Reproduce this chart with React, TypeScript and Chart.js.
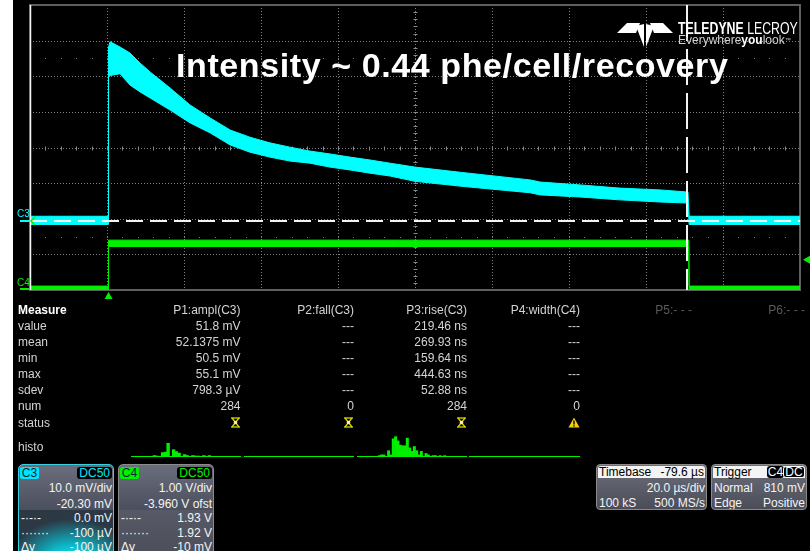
import React, { useEffect, useRef } from "react";
import { Chart, registerables } from "chart.js";

Chart.register(...registerables);

// ---------------- data ----------------
// C3 (cyan) trace: noise band envelope, time in µs, level in mV
const c3Time = [-20.4, -0.1, 0, 0.4, 3.0, 5.6, 8.2, 10.8, 16.0, 21.2, 26.4, 31.6, 36.7, 41.9, 47.1, 52.3, 57.5, 62.7, 67.9, 73.1, 79.6, 91.8, 109.5, 112.1, 122.5, 132.8, 143.2, 150.5, 150.8, 179.6];
const c3Upper = [1.0, 1.0, 48.5, 50.0, 48.5, 46.8, 44.0, 41.5, 37.0, 32.2, 28.6, 25.2, 23.2, 21.6, 20.4, 19.3, 18.5, 17.6, 16.8, 15.9, 14.8, 13.3, 11.2, 10.6, 9.8, 8.9, 8.4, 7.8, 1.0, 1.0];
const c3Lower = [-1.3, -1.3, 40.0, 40.5, 41.0, 37.8, 35.9, 34.2, 30.8, 27.2, 24.4, 21.0, 19.0, 17.6, 16.5, 15.9, 14.8, 14.0, 13.1, 12.3, 10.8, 9.4, 7.6, 7.0, 6.4, 5.6, 5.0, 4.7, -1.3, -1.3];

// C4 (green) trace: gate pulse, level in V
const c4Time = [-20.4, -0.1, 0, 150.7, 150.8, 179.6];
const c4Upper = [0.07, 0.07, 1.36, 1.36, 0.07, 0.07];
const c4Lower = [-0.04, -0.04, 1.18, 1.18, -0.04, -0.04];

// axis ranges (10 div x 20 µs; 8 div x 10 mV / 1 V)
const timeRange = [-20.4, 179.6];
const c3Range = [-19.7, 60.3];
const c4Range = [-0.04, 7.96];

const cursorTime = 150.2; // µs
const c3CursorLevel = 0.0; // mV
const triggerTime = 0; // µs
const triggerLevel = 0.81; // V

// measurement table
const measureLabels = ["value", "mean", "min", "max", "sdev", "num", "status"];
const measureHeaders = ["P1:ampl(C3)", "P2:fall(C3)", "P3:rise(C3)", "P4:width(C4)"];
const p1Values = ["51.8 mV", "52.1375 mV", "50.5 mV", "55.1 mV", "798.3 µV", "284"];
const p2Values = ["---", "---", "---", "---", "---", "0"];
const p3Values = ["219.46 ns", "269.93 ns", "159.64 ns", "444.63 ns", "52.88 ns", "284"];
const p4Values = ["---", "---", "---", "---", "---", "0"];
const p1Histo = [0, 0, 0, 0, 0, 0, 0, 0, 3, 2, 0, 9, 10, 28, 0, 15, 11, 8, 0, 5, 3, 0, 3, 2, 2, 0, 3, 0, 3, 0, 0, 0, 0, 0, 0, 0, 0, 0, 0, 0];
const p3Histo = [0, 0, 0, 0, 0, 0, 0, 0, 0, 2, 3, 3, 0, 9, 3, 26, 29, 23, 17, 16, 16, 27, 13, 8, 15, 9, 3, 8, 0, 5, 3, 0, 2, 2, 0, 2, 0, 2, 0, 0, 0, 0, 0, 0, 0, 0, 0];

// ---------------- styles ----------------
const CYAN = "#00ffff";
const GREEN = "#00f000";
const FONT = "'Liberation Sans', Arial, sans-serif";
const PANEL_TEXT = "#d4d4d4";

const line = (ctx: CanvasRenderingContext2D, x1: number, y1: number, x2: number, y2: number) => {
  ctx.beginPath();
  ctx.moveTo(x1, y1);
  ctx.lineTo(x2, y2);
  ctx.stroke();
};

const scopePlugin = {
  id: "scope",
  beforeDatasetsDraw(chart: any) {
    const { ctx, chartArea: a } = chart;
    const w = a.right - a.left;
    const h = a.bottom - a.top;
    const dx = w / 10;
    const dy = h / 8;
    ctx.save();
    ctx.lineWidth = 1;
    ctx.strokeStyle = "#808080";
    ctx.setLineDash([1, 2]);
    for (let i = 1; i < 10; i++) {
      const x = Math.round(a.left + i * dx) + 0.5;
      line(ctx, x, a.top, x, a.bottom);
    }
    for (let j = 1; j < 8; j++) {
      const y = Math.round(a.top + j * dy) + 0.5;
      line(ctx, a.left, y, a.right, y);
    }
    ctx.setLineDash([]);
    const cx = Math.round(a.left + 5 * dx) + 0.5;
    const cy = Math.round(a.top + 4 * dy) + 0.5;
    ctx.strokeStyle = "#8a8a8a";
    for (let k = 1; k < 50; k++) {
      const x = Math.round(a.left + (k * dx) / 5) + 0.5;
      line(ctx, x, cy - 2, x, cy + 2);
    }
    for (let k = 1; k < 40; k++) {
      const y = Math.round(a.top + (k * dy) / 5) + 0.5;
      line(ctx, cx - 2, y, cx + 2, y);
    }
    ctx.fillStyle = "#7a7a7a";
    for (const r of [1.5, 6.5]) {
      const y = Math.round(a.top + r * dy);
      for (let k = 1; k < 50; k++) {
        const x = Math.round(a.left + (k * dx) / 5);
        ctx.fillRect(x, y, 1, 1);
      }
    }
    ctx.strokeStyle = "#5e5e5e";
    ctx.lineWidth = 2;
    ctx.strokeRect(a.left, a.top, w, h);
    ctx.restore();
  },
  afterDatasetsDraw(chart: any) {
    const { ctx, chartArea: a, scales } = chart;
    ctx.save();
    ctx.strokeStyle = "#f4f4f4";
    ctx.lineWidth = 2;
    const yc = Math.round(scales.y3.getPixelForValue(c3CursorLevel)) + 1;
    ctx.setLineDash([17, 7]);
    line(ctx, a.left, yc, a.right, yc);
    const xc = Math.round(scales.x.getPixelForValue(cursorTime));
    ctx.setLineDash([36, 8]);
    line(ctx, xc, a.top, xc, a.bottom);
    ctx.setLineDash([]);
    ctx.lineWidth = 1.5;
    line(ctx, a.left + 0.5, a.top, a.left + 0.5, a.bottom);
    ctx.restore();
  },
  afterDraw(chart: any) {
    const { ctx, chartArea: a, scales } = chart;
    ctx.save();
    // trigger time marker
    const xt = scales.x.getPixelForValue(triggerTime);
    ctx.fillStyle = GREEN;
    ctx.beginPath();
    ctx.moveTo(xt, a.bottom + 2);
    ctx.lineTo(xt - 4, a.bottom + 9);
    ctx.lineTo(xt + 4, a.bottom + 9);
    ctx.closePath();
    ctx.fill();
    // trigger level marker
    const yl = scales.y4.getPixelForValue(triggerLevel);
    ctx.beginPath();
    ctx.moveTo(a.right + 3, yl);
    ctx.lineTo(chart.width, yl - 4);
    ctx.lineTo(chart.width, yl + 4);
    ctx.closePath();
    ctx.fill();
    // ground markers
    ctx.lineWidth = 2;
    ctx.strokeStyle = CYAN;
    const y3g = Math.round(scales.y3.getPixelForValue(0)) + 1;
    line(ctx, 20, y3g, a.left, y3g);
    ctx.strokeStyle = GREEN;
    const y4g = Math.round(scales.y4.getPixelForValue(0));
    line(ctx, 20, y4g, a.left, y4g);
    // small chevron
    ctx.lineWidth = 1.5;
    ctx.beginPath();
    ctx.moveTo(a.left + 5, y3g - 4);
    ctx.lineTo(a.left + 1, y3g);
    ctx.lineTo(a.left + 5, y3g + 4);
    ctx.stroke();
    ctx.restore();
  },
};

function ScopeChart() {
  const ref = useRef<HTMLCanvasElement>(null);
  useEffect(() => {
    const pts = (t: number[], v: number[]) => t.map((x, i) => ({ x, y: v[i] }));
    const common = { borderWidth: 1, pointRadius: 0, tension: 0 };
    const chart = new Chart(ref.current as HTMLCanvasElement, {
      type: "line",
      data: {
        datasets: [
          { label: "C3", data: pts(c3Time, c3Upper), yAxisID: "y3", borderColor: CYAN, backgroundColor: CYAN, fill: "+1", ...common },
          { label: "C3 low", data: pts(c3Time, c3Lower), yAxisID: "y3", borderColor: CYAN, backgroundColor: CYAN, fill: false, ...common },
          { label: "C4", data: pts(c4Time, c4Upper), yAxisID: "y4", borderColor: GREEN, backgroundColor: GREEN, fill: "+1", ...common },
          { label: "C4 low", data: pts(c4Time, c4Lower), yAxisID: "y4", borderColor: GREEN, backgroundColor: GREEN, fill: false, ...common },
        ],
      } as any,
      options: {
        responsive: false,
        animation: false,
        events: [],
        layout: { padding: { left: 30, right: 10, top: 5, bottom: 10 } },
        scales: {
          x: { type: "linear", min: timeRange[0], max: timeRange[1], display: false },
          y3: { type: "linear", min: c3Range[0], max: c3Range[1], display: false },
          y4: { type: "linear", min: c4Range[0], max: c4Range[1], display: false },
        },
        plugins: { legend: { display: false }, tooltip: { enabled: false } },
      } as any,
      plugins: [scopePlugin],
    });
    return () => chart.destroy();
  }, []);
  return <canvas ref={ref} width={810} height={300} style={{ position: "absolute", left: 0, top: 0 }} />;
}

function Histo({ counts, max, left, width }: { counts: number[]; max: number; left: number; width: number }) {
  const ref = useRef<HTMLCanvasElement>(null);
  useEffect(() => {
    const chart = new Chart(ref.current as HTMLCanvasElement, {
      type: "bar",
      data: {
        labels: counts.map((_, i) => String(i)),
        datasets: [{ data: counts, backgroundColor: GREEN, borderWidth: 0, categoryPercentage: 1, barPercentage: 1 }],
      },
      options: {
        responsive: false,
        animation: false,
        events: [],
        layout: { padding: 0 },
        scales: { x: { display: false }, y: { display: false, min: 0, max } },
        plugins: { legend: { display: false }, tooltip: { enabled: false } },
      } as any,
    });
    return () => chart.destroy();
  }, []);
  return <canvas ref={ref} width={width} height={24} style={{ position: "absolute", left, top: 433 }} />;
}

const T = (props: { x: number; cy: number; children: any; right?: boolean; color?: string; bold?: boolean; size?: number }) => {
  const size = props.size || 12;
  const lh = size + 2;
  const style: any = {
    position: "absolute",
    top: props.cy - lh / 2 - (size - 12) * 0.1,
    fontFamily: FONT,
    fontSize: size,
    lineHeight: lh + "px",
    color: props.color || PANEL_TEXT,
    fontWeight: props.bold ? "bold" : "normal",
    whiteSpace: "nowrap",
  };
  if (props.right) {
    style.left = props.x - 200;
    style.width = 200;
    style.textAlign = "right";
  } else {
    style.left = props.x;
  }
  return <div style={style}>{props.children}</div>;
};

const StatusX = ({ right, cy }: { right: number; cy: number }) => (
  <svg width={11} height={11} style={{ position: "absolute", left: right - 11, top: cy - 5.5 }}>
    <g stroke="#d8d400" strokeWidth={1.3} fill="none">
      <line x1={1} y1={1} x2={10} y2={1} />
      <line x1={1} y1={10} x2={10} y2={10} />
      <line x1={2} y1={1} x2={9} y2={10} />
      <line x1={9} y1={1} x2={2} y2={10} />
    </g>
    <circle cx={5.5} cy={5.5} r={1.8} fill="#f0f0d0" />
  </svg>
);

const Warn = ({ right, cy }: { right: number; cy: number }) => (
  <svg width={12} height={11} style={{ position: "absolute", left: right - 12, top: cy - 5.5 }}>
    <polygon points="6,0.5 11.5,10.5 0.5,10.5" fill="#f2d200" />
    <rect x={5.3} y={3.5} width={1.4} height={4} fill="#000" />
    <rect x={5.3} y={8.3} width={1.4} height={1.3} fill="#000" />
  </svg>
);

const rowCenters = [325.8, 341.7, 357.8, 374, 390, 406, 422.5];
const colRights = [240.5, 354, 467, 580];

function MeasurePanel() {
  const cols = [p1Values, p2Values, p3Values, p4Values];
  return (
    <>
      <T x={18} cy={310} bold color="#ffffff">Measure</T>
      {measureHeaders.map((h, i) => (
        <T key={h} x={colRights[i]} cy={310} right>{h}</T>
      ))}
      <T x={692} cy={310} right color="#5a5a5a">P5:- - -</T>
      <T x={805} cy={310} right color="#5a5a5a">P6:- - -</T>
      {measureLabels.map((l, r) => (
        <T key={l} x={18} cy={rowCenters[r]}>{l}</T>
      ))}
      {cols.map((vals, c) =>
        vals.map((v, r) => (
          <T key={c + "-" + r} x={colRights[c]} cy={rowCenters[r]} right>{v}</T>
        ))
      )}
      <StatusX right={colRights[0]} cy={422.5} />
      <StatusX right={colRights[1]} cy={422.5} />
      <StatusX right={colRights[2]} cy={422.5} />
      <Warn right={colRights[3]} cy={422.5} />
      <T x={18} cy={446.5}>histo</T>
      {[[131, 241], [244, 354], [357, 467], [469, 580]].map(([a, b]) => (
        <div key={a} style={{ position: "absolute", left: a, top: 456, width: b - a, height: 1, background: GREEN }} />
      ))}
      <Histo counts={p1Histo} max={49} left={131} width={110} />
      <Histo counts={p3Histo} max={34.3} left={357} width={110} />
    </>
  );
}

const boxText = "#f4f4f4";

function ChannelBox(props: {
  left: number;
  name: string;
  nameBg: string;
  coupling: string;
  couplingColor: string;
  border: string;
  lower: string;
  rows: [string, string][];
}) {
  const centers = [488, 503.5, 518, 532.5, 547];
  const top = 464;
  return (
    <div style={{ position: "absolute", left: props.left, top, width: 96, height: 100, border: "1px solid " + props.border, borderRadius: 5, overflow: "hidden", boxSizing: "border-box", background: "linear-gradient(180deg,#6a6e7c 0%,#4c505e 45%)" }}>
      <div style={{ position: "absolute", left: 0, right: 0, top: 45, bottom: 0, background: props.lower }} />
      <div style={{ position: "absolute", left: 1, top: 2, width: 19, height: 12, background: props.nameBg, color: "#062a30", fontFamily: FONT, fontSize: 12, lineHeight: "12px", textAlign: "center", borderRadius: 2 }}>{props.name}</div>
      <div style={{ position: "absolute", right: 1, top: 2, height: 12, padding: "0 2px", background: "#000", color: props.couplingColor, fontFamily: FONT, fontSize: 12, lineHeight: "12px", borderRadius: 3 }}>{props.coupling}</div>
      {props.rows.map(([l, r], i) => (
        <React.Fragment key={i}>
          <div style={{ position: "absolute", left: 2, top: centers[i] - top - 8, fontFamily: FONT, fontSize: 12, lineHeight: "14px", color: boxText, whiteSpace: "nowrap" }}>{l}</div>
          <div style={{ position: "absolute", right: 1, top: centers[i] - top - 8, fontFamily: FONT, fontSize: 12, lineHeight: "14px", color: boxText, whiteSpace: "nowrap" }}>{r}</div>
        </React.Fragment>
      ))}
    </div>
  );
}

function InfoBox(props: { left: number; width: number; head: any; rows: [string, string][] }) {
  const centers = [487.7, 503.3];
  const top = 464;
  return (
    <div style={{ position: "absolute", left: props.left, top, width: props.width, height: 46, border: "1px solid #8a8a8a", borderRadius: 4, boxSizing: "border-box", background: "linear-gradient(180deg,#6d707b 0%,#4a4d57 100%)", overflow: "hidden" }}>
      <div style={{ position: "absolute", left: 1, right: 1, top: 1, height: 12, background: "#f4f4f4", borderRadius: "3px 3px 0 0", fontFamily: FONT, fontSize: 12, lineHeight: "12px", color: "#000" }}>{props.head}</div>
      {props.rows.map(([l, r], i) => (
        <React.Fragment key={i}>
          <div style={{ position: "absolute", left: 2, top: centers[i] - top - 8, fontFamily: FONT, fontSize: 12, lineHeight: "14px", color: boxText, whiteSpace: "nowrap" }}>{l}</div>
          <div style={{ position: "absolute", right: 1, top: centers[i] - top - 8, fontFamily: FONT, fontSize: 12, lineHeight: "14px", color: boxText, whiteSpace: "nowrap" }}>{r}</div>
        </React.Fragment>
      ))}
    </div>
  );
}

function Logo() {
  return (
    <>
      <svg width={70} height={34} style={{ position: "absolute", left: 612, top: 18 }}>
        <g fill="#ffffff" transform="translate(-612,-18)">
          <polygon points="617,33 627,23 640,23 636,33" />
          <polygon points="673,33 663,23 650,23 654,33" />
          <polygon points="636,26 644,24 644,47" />
          <polygon points="654,26 646,24 646,47" />
        </g>
      </svg>
      <div style={{ position: "absolute", left: 678, top: 20.5, fontFamily: FONT, fontSize: 16, lineHeight: "16px", color: "#fff", whiteSpace: "nowrap", transform: "scaleX(0.77)", transformOrigin: "left top" }}>
        <b>TELEDYNE</b> LECROY
      </div>
      <div style={{ position: "absolute", left: 678, top: 34.3, fontFamily: FONT, fontSize: 12, lineHeight: "12px", color: "#d0d0d0", whiteSpace: "nowrap" }}>
        Everywhere<b style={{ color: "#fff" }}>you</b>look<span style={{ fontSize: 6, verticalAlign: "top" }}>™</span>
      </div>
    </>
  );
}

export default function App() {
  return (
    <div style={{ position: "absolute", left: 0, top: 0, width: 810, height: 551, background: "#000", overflow: "hidden" }}>
      <div style={{ position: "absolute", left: 0, top: 0, width: 13, height: 551, background: "#fff" }} />
      <ScopeChart />
      <div style={{ position: "absolute", left: 176, top: 48.2, fontFamily: FONT, fontWeight: "bold", fontSize: 34, lineHeight: "34px", letterSpacing: 0.6, color: "#fff", whiteSpace: "nowrap" }}>
        Intensity ~ 0.44 phe/cell/recovery
      </div>
      <Logo />
      <div style={{ position: "absolute", left: 17, top: 208.6, fontFamily: FONT, fontSize: 10, lineHeight: "10px", color: CYAN }}>C3</div>
      <div style={{ position: "absolute", left: 17, top: 277.6, fontFamily: FONT, fontSize: 10, lineHeight: "10px", color: GREEN }}>C4</div>
      <MeasurePanel />
      <ChannelBox
        left={18}
        name="C3"
        nameBg="#00e4ff"
        coupling="DC50"
        couplingColor="#00e4ff"
        border="#38cfe0"
        lower="radial-gradient(ellipse 62px 44px at 55% 100%, #12f2f8 0%, #0cb8c8 40%, #2c3844 100%)"
        rows={[["", "10.0 mV/div"], ["", "-20.30 mV"], ["-·-·-", "0.0 mV"], ["·······", "-100 µV"], ["Δy", "-100 µV"]]}
      />
      <ChannelBox
        left={118}
        name="C4"
        nameBg="#00f000"
        coupling="DC50"
        couplingColor="#00f000"
        border="#8c8c8c"
        lower="linear-gradient(180deg,#575a66 0%,#4a4d58 100%)"
        rows={[["", "1.00 V/div"], ["", "-3.960 V ofst"], ["-·-·-", "1.93 V"], ["·······", "1.92 V"], ["Δy", "-10 mV"]]}
      />
      <InfoBox
        left={596}
        width={111}
        head={<><span style={{ position: "absolute", left: 1 }}>Timebase</span><span style={{ position: "absolute", right: 1 }}>-79.6 µs</span></>}
        rows={[["", "20.0 µs/div"], ["100 kS", "500 MS/s"]]}
      />
      <InfoBox
        left={711}
        width={96}
        head={<>
          <span style={{ position: "absolute", left: 1 }}>Trigger</span>
          <span style={{ position: "absolute", left: 54, top: 0, width: 17, height: 12, background: "#000", color: "#fff", borderRadius: 3, textAlign: "center" }}>C4</span>
          <span style={{ position: "absolute", right: 0, top: 0, width: 20, height: 10, background: "#000", color: "#fff", border: "1px solid #fff", borderRadius: 3, lineHeight: "10px", textAlign: "center" }}>DC</span>
        </>}
        rows={[["Normal", "810 mV"], ["Edge", "Positive"]]}
      />
    </div>
  );
}
